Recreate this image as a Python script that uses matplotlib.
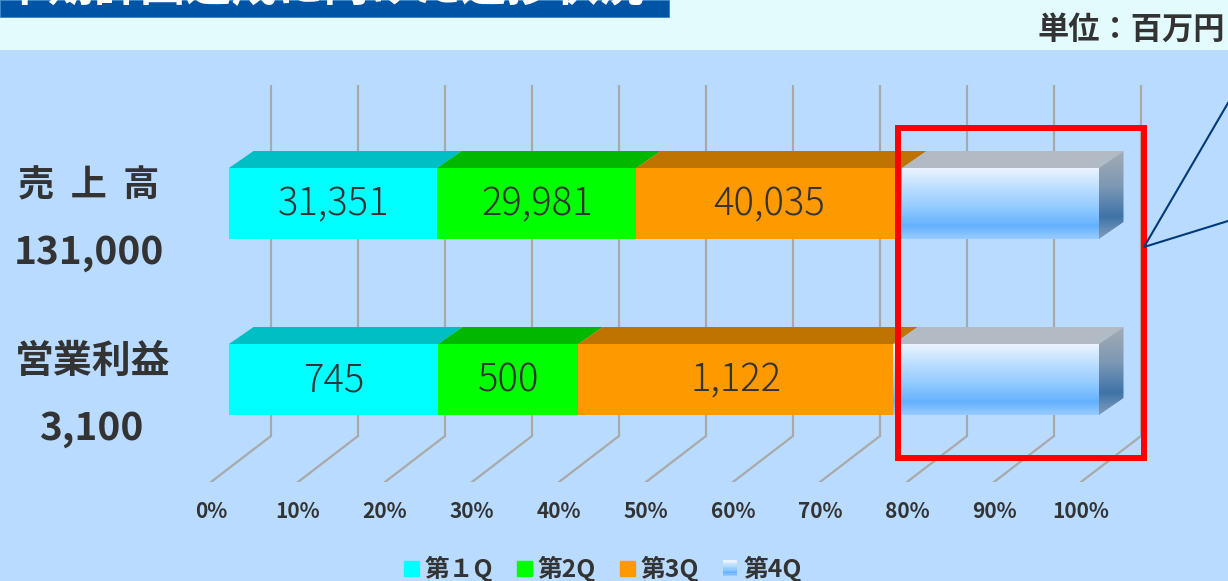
import matplotlib
matplotlib.use('Agg')
import matplotlib.pyplot as plt
import numpy as np
from matplotlib.colors import LinearSegmentedColormap
from matplotlib.legend_handler import HandlerBase
from matplotlib.patches import Patch, Polygon, Rectangle

plt.rcParams['font.family'] = ['Noto Sans CJK JP', 'DejaVu Sans']

# data
categories = ['売  上  高', '営業利益']
targets = ['131,000', '3,100']
q1 = [31351, 745]
q2 = [29981, 500]
q3 = [40035, 1122]
q4 = [29633, 733]  # not shown as a label, the rest of the target
series_names = ['第１Q', '第2Q', '第3Q', '第4Q']
percent_ticks = [0, 10, 20, 30, 40, 50, 60, 70, 80, 90, 100]

W, H = 1228, 581
TEXT = '#333333'
FRONT = ['#00ffff', '#00ff00', '#ff9900']
TOP = ['#00bfc4', '#00b800', '#bf7300', '#b2bac3']
BLUE_FRONT = LinearSegmentedColormap.from_list('q4', [
    (0, '#eaf3ff'), (0.3, '#b9dcff'), (0.55, '#93cbff'), (0.82, '#64b1ff'), (1, '#98caff')])
BLUE_SIDE = LinearSegmentedColormap.from_list('q4side', [
    (0, '#a4abb3'), (0.4, '#7c98b4'), (0.75, '#3f73a9'), (1, '#7f9dbd')])
GRADIENT = np.linspace(0, 1, 100).reshape(-1, 1)

# 3d look, in data units (100% = 870 px, one row = 176 px)
BAR_HEIGHT = 71 / 176
BAR_DX = 24.5 / 8.7
BAR_DY = 17 / 176
BACK_DX = 42 / 8.7
FLOOR_DX = -18 / 8.7


def pixel_axes(zorder):
    a = fig.add_axes([0, 0, 1, 1], zorder=zorder)
    a.set_xlim(0, W)
    a.set_ylim(H, 0)
    a.axis('off')
    return a


class GradientHandler(HandlerBase):
    def create_artists(self, legend, orig_handle, xdescent, ydescent, width, height, fontsize, trans):
        strips = []
        for i in range(12):
            strips.append(Rectangle((-xdescent, -ydescent + height * (11 - i) / 12), width, height / 11,
                                    facecolor=BLUE_FRONT(i / 11), edgecolor='none', transform=trans))
        return strips


fig = plt.figure(figsize=(W / 100, H / 100), dpi=100, facecolor='#b9dbff')

# background, headings
back = pixel_axes(0)
back.add_patch(Rectangle((0, 0), W, 50, facecolor='#e4fbfd', edgecolor='none'))
back.add_patch(Rectangle((0, 0), 669, 17, facecolor='#0054a6', edgecolor='#3f86c6', linewidth=0.7))
back.text(2, 1, '中期計画達成に向けた進捗状況', color='white', fontsize=33, fontweight='bold', va='baseline', ha='left')
back.text(1225, 30, '単位：百万円', color=TEXT, fontsize=22.5, fontweight='bold', va='center', ha='right')
back.text(89, 186, categories[0], color=TEXT, fontsize=26, fontweight='bold', ha='center', va='center')
back.text(89, 252, targets[0], color=TEXT, fontsize=28, fontweight='bold', ha='center', va='center')
back.text(93, 361, categories[1], color=TEXT, fontsize=28, fontweight='bold', ha='center', va='center')
back.text(91, 428, targets[1], color=TEXT, fontsize=28, fontweight='bold', ha='center', va='center')

# chart, ax covers px x 200..1150 and px y 85..482
ax = fig.add_axes([200 / W, 1 - 482 / H, 950 / W, 397 / H], zorder=1)
ax.patch.set_visible(False)
for s in ax.spines.values():
    s.set_visible(False)

y_floor = (436 - 203.5) / 176
y_bottom = (482 - 203.5) / 176
y_top = (85 - 203.5) / 176

for p in percent_ticks:
    ax.plot([p + BACK_DX, p + BACK_DX, p + FLOOR_DX], [y_top, y_floor, y_bottom],
            color='#a9a9a9', lw=1.6, zorder=1, solid_joinstyle='miter')

rows = np.arange(len(categories))
lefts = np.zeros(len(categories))
totals = np.array(q1) + np.array(q2) + np.array(q3) + np.array(q4)

for i, vals in enumerate([q1, q2, q3, q4]):
    widths = np.array(vals) / totals * 100
    for r in rows:
        l, w = lefts[r], widths[r]
        b, t = r + BAR_HEIGHT / 2, r - BAR_HEIGHT / 2
        ax.add_patch(Polygon([(l, t), (l + w, t), (l + w + BAR_DX, t - BAR_DY), (l + BAR_DX, t - BAR_DY)],
                             facecolor=TOP[i], edgecolor='none', zorder=2))
        if i < 3:
            ax.barh(r, w, left=l, height=BAR_HEIGHT, color=FRONT[i], zorder=3)
            ax.text(l + w / 2, r + 0.008, f'{vals[r]:,}', color=TEXT, fontsize=27.5, fontweight='light',
                    ha='center', va='center', zorder=5)
        else:
            ax.imshow(GRADIENT, cmap=BLUE_FRONT, extent=(l, l + w, b, t), aspect='auto', zorder=3, origin='upper')
            side = ax.imshow(GRADIENT, cmap=BLUE_SIDE, extent=(l + w, l + w + BAR_DX, b, t - BAR_DY),
                             aspect='auto', zorder=3, origin='upper')
            shape = Polygon([(l + w, t), (l + w + BAR_DX, t - BAR_DY), (l + w + BAR_DX, b - BAR_DY), (l + w, b)],
                            transform=ax.transData)
            side.set_clip_path(shape)
    lefts = lefts + widths

ax.set_xlim(-29 / 8.7, 921 / 8.7)
ax.set_ylim(y_bottom, y_top)
ax.set_yticks([])
ax.set_xticks(np.array(percent_ticks) + FLOOR_DX, [f'{p}%' for p in percent_ticks])
ax.tick_params(axis='x', length=0, pad=14, labelsize=15, labelcolor=TEXT)
for lab in ax.get_xticklabels():
    lab.set_fontweight('bold')

handles = [Patch(color=c) for c in FRONT] + [Patch(color='#93cbff')]
leg = ax.legend(handles, series_names, ncol=4, frameon=False, fontsize=17.8, labelcolor=TEXT,
                loc='center', bbox_to_anchor=(603 / W, 1 - 569 / H), bbox_transform=fig.transFigure,
                handlelength=0.6, handleheight=0.6, handletextpad=0.25, columnspacing=0.95, borderpad=0,
                handler_map={handles[3]: GradientHandler()})
for t in leg.get_texts():
    t.set_fontweight('bold')

# red box and callout lines
over = pixel_axes(2)
over.add_patch(Rectangle((898, 128), 245.7, 330, fill=False, edgecolor='#ff0000', linewidth=4.3, joinstyle='miter'))
over.plot([1228, 1144, 1228], [103, 247, 221], color='#003a78', lw=1.5, solid_joinstyle='miter')

fig.savefig('out.png', dpi=100)
